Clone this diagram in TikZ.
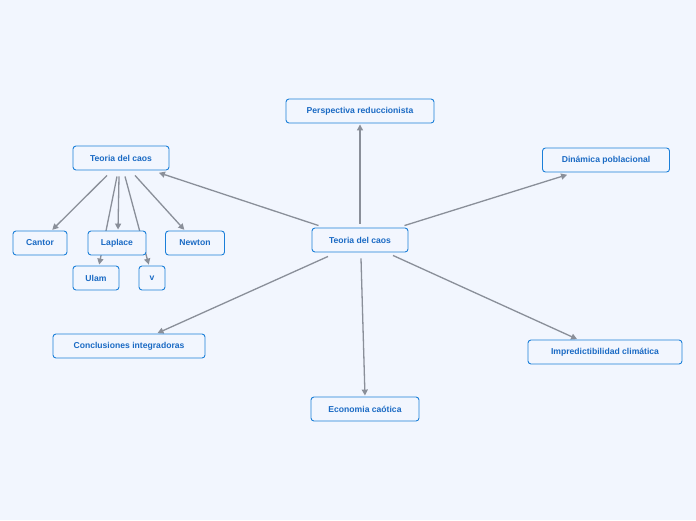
\documentclass[tikz,border=0pt]{standalone}
\usepackage{fontspec}
\setmainfont{Liberation Sans}
\usetikzlibrary{arrows.meta,backgrounds}
\definecolor{bg}{HTML}{F2F6FE}
\definecolor{bd}{HTML}{1B7FD9}
\definecolor{tx}{HTML}{1A6AC4}
\definecolor{ln}{HTML}{8A8F99}
\begin{document}
\begin{tikzpicture}[x=1pt,y=-1pt,
 box/.style={draw=bd,fill=bg,rounded corners=3pt,line width=0.9pt,text=tx,font=\fontsize{8.6}{10}\selectfont\bfseries,minimum height=24pt,inner xsep=0pt,anchor=center},
 con/.style={draw=ln,line width=1.3pt,-{Triangle[length=6pt,width=6pt]},shorten >=1pt}]
\useasboundingbox (0,0) rectangle (696,520);
\node[box,minimum width=148pt] (p) at (360,111) {Perspectiva reduccionista};
\node[box,minimum width=96pt] (lt) at (121,158) {Teoria del caos};
\node[box,minimum width=127pt] (d) at (606,160) {Dinámica poblacional};
\node[box,minimum width=54pt] (ca) at (40,243) {Cantor};
\node[box,minimum width=58pt] (la) at (117,243) {Laplace};
\node[box,minimum width=59pt] (ne) at (195,243) {Newton};
\node[box,minimum width=96pt] (c) at (360,240) {Teoria del caos};
\node[box,minimum width=46pt] (u) at (96,278) {Ulam};
\node[box,minimum width=26pt] (v) at (152,278) {v};
\node[box,minimum width=152pt] (co) at (129,346) {Conclusiones integradoras};
\node[box,minimum width=154pt] (im) at (605,352) {Impredictibilidad climática};
\node[box,minimum width=108pt] (ec) at (365,409) {Economia caótica};
\begin{scope}[on background layer]
\fill[bg] (0,0) rectangle (696,520);
\draw[con] ([yshift=4pt]c.north) -- (p.south);
\draw[con] ([xshift=-4pt,yshift=2pt]c.north east) -- ([xshift=-38pt,yshift=-2pt]d.south);
\draw[con] ([xshift=7pt,yshift=2pt]c.north west) -- ([xshift=37pt,yshift=-2pt]lt.south);
\draw[con] ([xshift=-32pt,yshift=-4pt]c.south) -- ([xshift=104pt]co.north west);
\draw[con] ([xshift=1pt,yshift=-6pt]c.south) -- (ec.north);
\draw[con] ([xshift=33pt,yshift=-3pt]c.south) -- ([xshift=-27pt]im.north);
\draw[con] ([xshift=-14pt,yshift=-5pt]lt.south) -- ([xshift=39pt]ca.north west);
\draw[con] ([xshift=-2pt,yshift=-6pt]lt.south) -- ([xshift=1pt]la.north);
\draw[con] ([xshift=14pt,yshift=-5pt]lt.south) -- ([xshift=-10pt]ne.north);
\draw[con] ([xshift=-4pt,yshift=-6pt]lt.south) -- ([xshift=3pt]u.north);
\draw[con] ([xshift=4pt,yshift=-6pt]lt.south) -- ([xshift=-3pt]v.north);
\end{scope}
\end{tikzpicture}
\end{document}
